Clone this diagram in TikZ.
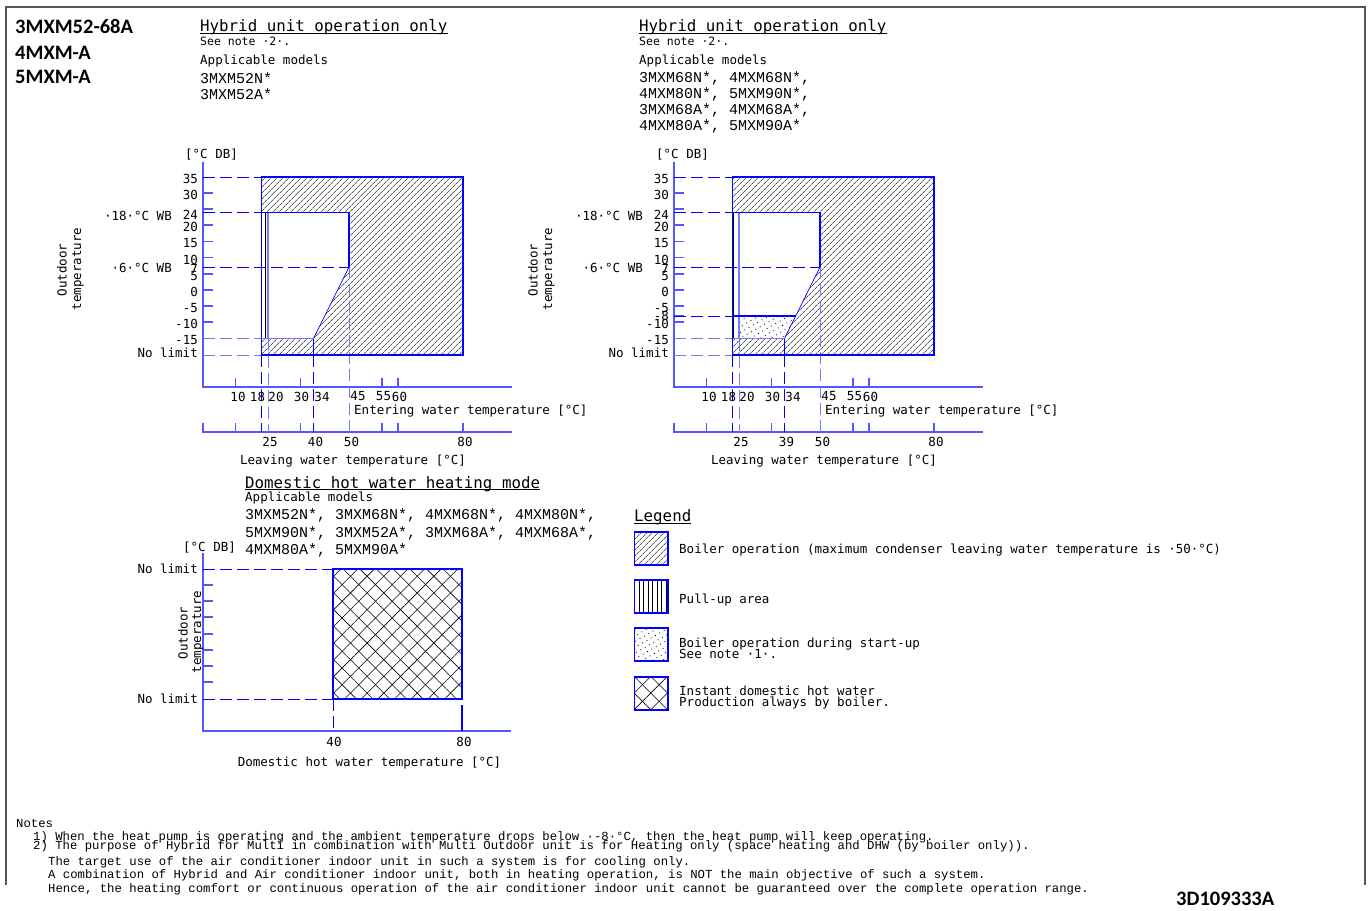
\documentclass[tikz,border=0pt]{standalone}
\usepackage{fontspec}
\setmainfont{DejaVu Sans Mono}
\newfontfamily\widefont{Liberation Mono}
\newfontfamily\notefont{Liberation Mono}
\newfontfamily\headfont{Carlito}
\usetikzlibrary{patterns.meta}

\definecolor{edgeblue}{RGB}{0, 0, 255}
\definecolor{axisblue}{RGB}{85, 85, 255}
\definecolor{softblue}{RGB}{120, 120, 255}
\definecolor{framegray}{RGB}{85, 85, 85}

\tikzset{
    sheetframe/.style = {framegray, line width = 1.6pt},
    axisline/.style = {axisblue, line width = 1.4pt},
    edgeline/.style = {edgeblue, line width = 1.1pt},
    thinedge/.style = {edgeblue, line width = 0.7pt},
    softedge/.style = {softblue, line width = 1.1pt},
    guide/.style = {edgeblue, line width = 1pt, dash pattern = on 12pt off 5pt},
    softguide/.style = {softblue, line width = 1pt, dash pattern = on 12pt off 5pt},
    ulline/.style = {black, line width = 0.8pt},
    hatch/.style = {pattern = {Lines[angle = 45, distance = 4pt, line width = 0.6pt]}},
    pullup/.style = {pattern = {Lines[angle = 90, distance = 4.5pt, line width = 0.6pt]}},
    startup/.style = {pattern = {Dots[angle = 30, distance = 5pt, radius = 0.6pt]}},
    crosshatch/.style = {pattern = {Lines[angle = 45, distance = 11.8pt, line width = 0.6pt]},
        postaction = {pattern = {Lines[angle = -45, distance = 11.8pt, line width = 0.6pt]}}},
    lbl/.style = {inner sep = 0pt, font = \fontsize{12.5}{13}\selectfont},
    smalllbl/.style = {inner sep = 0pt, font = \fontsize{11.5}{12}\selectfont},
    titlelbl/.style = {inner sep = 0pt, font = \fontsize{15.8}{17}\selectfont},
    modellbl/.style = {inner sep = 0pt, font = \fontsize{15}{16}\widefont},
    notelbl/.style = {inner sep = 0pt, font = \fontsize{12.3}{13}\notefont},
    headlbl/.style = {inner sep = 0pt, font = \fontsize{20.5}{22}\headfont\bfseries}
}

\begin{document}
\begin{tikzpicture}[x = 1pt, y = -1pt]
    \useasboundingbox (0, 0) rectangle (1370, 910);
    \draw[sheetframe] (6, 885) -- (6, 7) -- (1365, 7) -- (1365, 885);

    \node[headlbl, anchor = base west] (mdla) at (15, 33.3) {3MXM52-68A};
    \node[headlbl, anchor = base west] (mdlb) at (15, 59.3) {4MXM-A};
    \node[headlbl, anchor = base west] (mdlc) at (15, 83.3) {5MXM-A};

    \node[titlelbl, anchor = base west] (ttla) at (200, 31.5) {Hybrid unit operation only};
    \draw[ulline] ([yshift = -1.6pt]ttla.base west) -- ([yshift = -1.6pt]ttla.base east);
    \node[smalllbl, anchor = base west] (snta) at (200, 45) {See note ·2·.};
    \node[lbl, anchor = base west] (apma) at (200, 64.5) {Applicable models};
    \node[modellbl, anchor = base west] (mda1) at (200, 83.3) {3MXM52N*};
    \node[modellbl, anchor = base west] (mda2) at (200, 99) {3MXM52A*};

    \node[titlelbl, anchor = base west] (ttlb) at (639, 31.5) {Hybrid unit operation only};
    \draw[ulline] ([yshift = -1.6pt]ttlb.base west) -- ([yshift = -1.6pt]ttlb.base east);
    \node[smalllbl, anchor = base west] (sntb) at (639, 45) {See note ·2·.};
    \node[lbl, anchor = base west] (apmb) at (639, 64.5) {Applicable models};
    \node[modellbl, anchor = base west] (mdb1) at (639, 82.3) {3MXM68N*, 4MXM68N*,};
    \node[modellbl, anchor = base west] (mdb2) at (639, 98.3) {4MXM80N*, 5MXM90N*,};
    \node[modellbl, anchor = base west] (mdb3) at (639, 114.3) {3MXM68A*, 4MXM68A*,};
    \node[modellbl, anchor = base west] (mdb4) at (639, 130) {4MXM80A*, 5MXM90A*};

    \path[startup] (739, 316) -- (795.5, 316) -- (784.5, 338.5) -- (739, 338.5) -- cycle;

    \foreach \ox/\cn/\lv in {0/a/40, 471/b/39} {
        \begin{scope}[xshift = \ox pt]
            \path[hatch] (261.5, 177) -- (463, 177) -- (463, 355) -- (261.5, 355) -- (261.5, 338.5)
                -- (313.5, 338.5) -- (349, 267) -- (349, 212.5) -- (261.5, 212.5) -- cycle;
            \path[pullup] (261.5, 212.5) rectangle (268, 338.5);

            \draw[axisline] (203, 162) -- (203, 387) -- (512, 387);
            \draw[axisline] (203, 423) -- (203, 432) -- (512, 432);
            \foreach \ty in {193, 209, 225, 241.5, 257.5, 274, 290, 306, 322}
                \draw[axisline] (203, \ty) -- (213, \ty);
            \foreach \tx in {235.5, 300.5, 382, 398}
                \draw[axisline] (\tx, 378) -- (\tx, 387);
            \foreach \tx in {235.5, 300.5, 382, 398, 463}
                \draw[axisline] (\tx, 423) -- (\tx, 432);

            \draw[guide] (203, 177) -- (261.5, 177);
            \draw[guide] (203, 212.5) -- (261.5, 212.5);
            \draw[guide] (203, 267) -- (349, 267);
            \draw[softguide] (203, 338.5) -- (261.5, 338.5);
            \draw[softguide] (203, 355) -- (261.5, 355);
            \draw[guide] (261.5, 355) -- (261.5, 432);
            \draw[softguide] (268, 338.5) -- (268, 432);
            \draw[guide] (313.5, 355) -- (313.5, 432);
            \draw[softguide] (349, 267) -- (349, 432);

            \draw[edgeline] (261.5, 177) rectangle (463, 355);
            \draw[edgeline] (261.5, 212.5) -- (349, 212.5) -- (349, 267);
            \draw[thinedge] (349, 267) -- (313.5, 338.5) -- (313.5, 355);
            \draw[softedge] (261.5, 338.5) -- (313.5, 338.5);
            \draw[softedge] (268, 212.5) -- (268, 338.5);

            \foreach \tv/\ty in {35/177, 30/193, 24/212.5, 20/225, 15/241.5, 10/257.5, 7/267, 5/274, 0/290, -5/306, -10/322, -15/338.5}
                \node[lbl, anchor = east] (yl\cn\tv) at (198, \ty + 2) {\tv};
            \node[lbl, anchor = east] (nl\cn) at (198, 353) {No limit};
            \node[lbl, anchor = east] (wbh\cn) at (172, 216) {·18·°C WB};
            \node[lbl, anchor = east] (wbl\cn) at (172, 268) {·6·°C WB};
            \node[lbl, anchor = base] (db\cn) at (211.5, 158) {[°C DB]};
            \node[lbl, rotate = 90] (od\cn) at (62, 270) {Outdoor};
            \node[lbl, rotate = 90] (tp\cn) at (78, 269) {temperature};

            \foreach \tv/\tx in {10/238, 18/257.5, 20/276, 30/301.5, 34/322, 45/358, 55/383.5, 60/399.5}
                \node[lbl] (en\cn\tv) at (\tx, 396.5) {\tv};
            \node[lbl, anchor = base west] (ent\cn) at (354, 414) {Entering water temperature [°C]};
            \foreach \tv/\tx in {25/270, \lv/315.5, 50/351.5, 80/465}
                \node[lbl] (lv\cn\tv) at (\tx, 442) {\tv};
            \node[lbl, anchor = base] (lvt\cn) at (353, 464) {Leaving water temperature [°C]};
        \end{scope}
    }

    \draw[axisline] (674, 316) -- (684, 316);
    \draw[guide] (674, 316) -- (732.5, 316);
    \draw[edgeline] (732.5, 316) -- (795.5, 316);
    \node[lbl, anchor = east] (ylb8) at (669, 316) {-8};

    \node[titlelbl, anchor = base west] (ttlc) at (245, 488) {Domestic hot water heating mode};
    \draw[ulline] ([yshift = -1.8pt]ttlc.base west) -- ([yshift = -1.8pt]ttlc.base east);
    \node[lbl, anchor = base west] (apmc) at (245, 501) {Applicable models};
    \node[modellbl, anchor = base west] (mdc1) at (245, 519) {3MXM52N*, 3MXM68N*, 4MXM68N*, 4MXM80N*,};
    \node[modellbl, anchor = base west] (mdc2) at (245, 537) {5MXM90N*, 3MXM52A*, 3MXM68A*, 4MXM68A*,};
    \node[modellbl, anchor = base west] (mdc3) at (245, 554) {4MXM80A*, 5MXM90A*};

    \path[crosshatch] (333, 569) rectangle (462, 699);
    \draw[axisline] (203, 553) -- (203, 731) -- (511, 731);
    \foreach \ty in {585, 601, 617, 634, 650, 666, 682}
        \draw[axisline] (203, \ty) -- (213, \ty);
    \draw[guide] (203, 569) -- (333, 569);
    \draw[guide] (203, 699) -- (333, 699);
    \draw[guide] (333, 699) -- (333, 731);
    \draw[edgeline] (462, 705) -- (462, 731);
    \draw[edgeline] (333, 569) rectangle (462, 699);

    \node[lbl, anchor = base] (dbc) at (209.5, 551) {[°C DB]};
    \node[lbl, anchor = east] (nlc1) at (198, 569) {No limit};
    \node[lbl, anchor = east] (nlc2) at (198, 699) {No limit};
    \node[lbl, rotate = 90] (odc) at (183, 633) {Outdoor};
    \node[lbl, rotate = 90] (tpc) at (198, 632) {temperature};
    \node[lbl] (dh40) at (334, 742) {40};
    \node[lbl] (dh80) at (464, 742) {80};
    \node[lbl, anchor = base] (dht) at (369.5, 766) {Domestic hot water temperature [°C]};

    \node[titlelbl, anchor = base west] (lgnd) at (634, 521.7) {Legend};
    \draw[ulline] ([yshift = -2pt]lgnd.base west) -- ([yshift = -2pt]lgnd.base east);
    \draw[edgeline, hatch] (634.5, 532) rectangle (668, 565);
    \draw[edgeline, pullup] (634.5, 580) rectangle (668, 613);
    \draw[edgeline, startup] (634.5, 628) rectangle (668, 661);
    \draw[edgeline, crosshatch] (634.5, 677) rectangle (668, 710);
    \node[lbl, anchor = base west] (lg1) at (679, 553) {Boiler operation (maximum condenser leaving water temperature is ·50·°C)};
    \node[lbl, anchor = base west] (lg2) at (679, 603) {Pull-up area};
    \node[lbl, anchor = base west] (lg3a) at (679, 647) {Boiler operation during start-up};
    \node[lbl, anchor = base west] (lg3b) at (679, 658) {See note ·1·.};
    \node[lbl, anchor = base west] (lg4a) at (679, 695) {Instant domestic hot water};
    \node[lbl, anchor = base west] (lg4b) at (679, 706) {Production always by boiler.};

    \node[notelbl, anchor = base west] (nts) at (16, 827) {Notes};
    \node[notelbl, anchor = base west] (nt1) at (33, 840) {1) When the heat pump is operating and the ambient temperature drops below ·-8·°C, then the heat pump will keep operating.};
    \node[notelbl, anchor = base west] (nt2) at (33, 849) {2) The purpose of Hybrid for Multi in combination with Multi Outdoor unit is for Heating only (space heating and DHW (by boiler only)).};
    \node[notelbl, anchor = base west] (nt3) at (48, 865) {The target use of the air conditioner indoor unit in such a system is for cooling only.};
    \node[notelbl, anchor = base west] (nt4) at (48, 878) {A combination of Hybrid and Air conditioner indoor unit, both in heating operation, is NOT the main objective of such a system.};
    \node[notelbl, anchor = base west] (nt5) at (48, 892) {Hence, the heating comfort or continuous operation of the air conditioner indoor unit cannot be guaranteed over the complete operation range.};

    \node[headlbl, anchor = base west] (dwg) at (1176, 905) {3D109333A};
\end{tikzpicture}
\end{document}
